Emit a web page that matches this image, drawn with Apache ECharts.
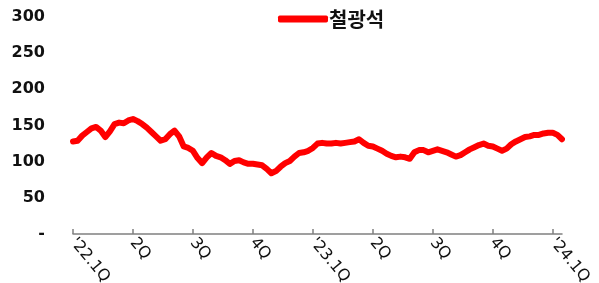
<!DOCTYPE html>
<html>
<head>
<meta charset="utf-8">
<script src="https://cdn.jsdelivr.net/npm/echarts@6/dist/echarts.min.js"></script>
<style>
  html, body { margin: 0; padding: 0; background: #fff; }
  #container { width: 599px; height: 283px; }
</style>
</head>
<body>
<div id="container"></div>
<script>
const dom = document.getElementById("container");
const myChart = echarts.init(dom);

// weekly iron ore price, '22.1Q .. early '24.1Q
const ironOre = [
  128, 129, 136, 141, 146, 148, 143, 134, 142, 152, 154, 153, 157,
  159, 156, 152, 147, 141, 135, 129, 131, 138, 143, 135, 121, 119,
  115, 105, 98, 106, 112, 108, 106, 102, 97, 101, 102, 99, 97,
  97, 96, 95, 90, 84, 87, 93, 98, 101, 107, 112, 113, 115,
  119, 125, 126, 125, 125, 126, 125, 126, 127, 128, 131, 126, 122,
  121, 118, 115, 111, 108, 106, 107, 106, 104, 113, 116, 116, 113,
  115, 117, 115, 113, 110, 107, 109, 113, 117, 120, 123, 125, 122,
  121, 118, 115, 118, 124, 128, 131, 134, 135, 137, 137, 139, 140,
  140, 137, 131
];

const quarterLabels = ["'22.1Q", "2Q", "3Q", "4Q", "'23.1Q", "2Q", "3Q", "4Q", "'24.1Q"];
const weeksPerQuarter = 13;

const yTicks = [0, 50, 100, 150, 200, 250, 300];

const categories = ironOre.map((v, i) => {
  if (i % weeksPerQuarter === 0) return quarterLabels[i / weeksPerQuarter] || '';
  return '';
});

const option = {
  animation: false,
  legend: {
    top: 4,
    left: 273,
    icon: 'roundRect',
    itemWidth: 50,
    itemHeight: 7,
    itemGap: 2,
    textStyle: {
      fontFamily: 'Noto Sans CJK KR',
      fontWeight: 'bold',
      fontSize: 20,
      color: '#111',
      padding: [0, 0, 0, -4]
    },
    data: ['철광석']
  },
  grid: {
    left: 73,
    right: 37,
    top: 17,
    bottom: 49,
    containLabel: false,
    outerBoundsMode: 'none'
  },
  xAxis: {
    type: 'category',
    boundaryGap: false,
    data: categories,
    axisLine: { lineStyle: { color: '#808080', width: 1.5 } },
    axisTick: {
      inside: true,
      length: 5,
      interval: (i) => i % weeksPerQuarter === 0,
      lineStyle: { color: '#808080', width: 1.5 }
    },
    axisLabel: {
      interval: (i) => i % weeksPerQuarter === 0,
      rotate: -50,
      margin: 6,
      fontFamily: 'DejaVu Sans',
      fontSize: 16,
      color: '#111'
    },
    splitLine: { show: false }
  },
  yAxis: {
    type: 'value',
    min: yTicks[0],
    max: yTicks[yTicks.length - 1],
    interval: 50,
    axisLine: { show: false },
    axisTick: { show: false },
    splitLine: { show: false },
    axisLabel: {
      margin: 28,
      fontFamily: 'DejaVu Sans',
      fontWeight: 'bold',
      fontSize: 16,
      color: '#111',
      formatter: v => v === 0 ? '-' : String(v)
    }
  },
  series: [
    {
      name: '철광석',
      type: 'line',
      data: ironOre,
      symbol: 'none',
      smooth: false,
      lineStyle: { color: '#ff0000', width: 6, cap: 'round', join: 'round' },
      itemStyle: { color: '#ff0000' }
    }
  ]
};

myChart.setOption(option, true);
</script>
</body>
</html>
